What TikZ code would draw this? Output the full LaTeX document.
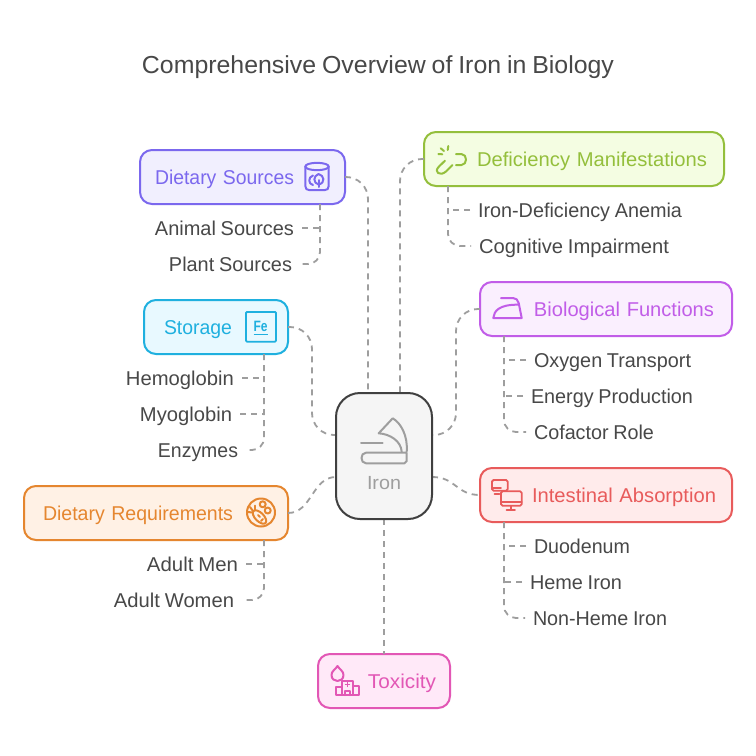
\documentclass[tikz,border=0pt]{standalone}
\usepackage{fontspec}
\usepackage{graphicx}
\setmainfont[WordSpace=0.85]{Liberation Sans}
\newcommand{\fw}[2]{\resizebox{#1pt}{\height}{#2}}
\definecolor{txt}{HTML}{484848}
\definecolor{cP}{HTML}{7B68EE}\definecolor{fP}{HTML}{F1EFFE}
\definecolor{cG}{HTML}{94BF3C}\definecolor{fG}{HTML}{F4FDE2}
\definecolor{cM}{HTML}{C15DE8}\definecolor{fM}{HTML}{FAEFFE}
\definecolor{cR}{HTML}{E85B5B}\definecolor{fR}{HTML}{FFEBEB}
\definecolor{cB}{HTML}{1FB0DF}\definecolor{fB}{HTML}{E8F9FF}
\definecolor{cO}{HTML}{E5862F}\definecolor{fO}{HTML}{FFF1E5}
\definecolor{cK}{HTML}{E257B5}\definecolor{fK}{HTML}{FFE9F8}
\definecolor{cI}{HTML}{9E9E9E}
\tikzset{
  x=1pt,y=-1pt,
  ftxt/.style={font=\fontsize{20}{22}\selectfont,text height=16,text depth=2},
  topic/.style n args={3}{draw=#1,fill=#2,text=#1,line width=2,rounded corners=12,outer sep=0,
     minimum height=54,inner ysep=0,ftxt,inner xsep=#3},
  item/.style={ftxt,text=txt,inner xsep=8,inner ysep=0,outer sep=0},
  conn/.style={draw=cI,line width=1.8,dash pattern=on 6 off 5},
  icon/.style={line width=2,line cap=round,line join=round},
}
\begin{document}
\begin{tikzpicture}
\useasboundingbox (0,0) rectangle (756,756);
\fill[white] (0,0) rectangle (756,756);
\node[font=\fontsize{24.6}{28}\selectfont,text=txt] (title) at (378,67) {\fw{472}{Comprehensive Overview of Iron in Biology}};

\node[draw=none,minimum width=96,minimum height=126,outer sep=0] (ironc) at (384,456) {};

% topics
\node[topic={cP}{fP}{15},text width=175,align=left]  (ds) at (242.5,177) {\fw{139}{Dietary Sources}};
\node[topic={cG}{fG}{17},text width=266,align=right] (dm) at (574,159) {\fw{230}{Deficiency Manifestations}};
\node[topic={cM}{fM}{18},text width=216,align=right] (bf) at (606,309) {\fw{180}{Biological Functions}};
\node[topic={cR}{fR}{16},text width=220,align=right] (ia) at (606,495) {\fw{184}{Intestinal Absorption}};
\node[topic={cB}{fB}{20},text width=104,align=left]  (st) at (216,327) {\fw{68}{Storage}};
\node[topic={cO}{fO}{19},text width=226,align=left]  (dr) at (156,513) {\fw{190}{Dietary Requirements}};
\node[topic={cK}{fK}{14},text width=104,align=right] (tx) at (384,681) {\fw{68}{Toxicity}};

% junction points on the topics
\coordinate (dsb) at ([xshift=77.5]ds.south);
\coordinate (dmb) at ([xshift=-126]dm.south);
\coordinate (bfb) at ([xshift=-102]bf.south);
\coordinate (iab) at ([xshift=-102]ia.south);
\coordinate (stb) at ([xshift=48]st.south);
\coordinate (drb) at ([xshift=108]dr.south);

% items
\node[item,anchor=east] (i1) at (302,228) {\fw{139}{Animal Sources}};
\node[item,anchor=east] (i2) at (300,264) {\fw{123}{Plant Sources}};
\node[item,anchor=west] (i3) at (470,210) {\fw{204}{Iron-Deficiency Anemia}};
\node[item,anchor=west] (i4) at (471,246) {\fw{190}{Cognitive Impairment}};
\node[item,anchor=west] (i5) at (526,360) {\fw{157}{Oxygen Transport}};
\node[item,anchor=west] (i6) at (523,396) {\fw{162}{Energy Production}};
\node[item,anchor=west] (i7) at (526,432) {\fw{120}{Cofactor Role}};
\node[item,anchor=west] (i8) at (526,546) {\fw{96}{Duodenum}};
\node[item,anchor=west] (i9) at (522,582) {\fw{92}{Heme Iron}};
\node[item,anchor=west] (i10) at (525,618) {\fw{134}{Non-Heme Iron}};
\node[item,anchor=east] (i11) at (242,378) {\fw{108}{Hemoglobin}};
\node[item,anchor=east] (i12) at (240,414) {\fw{92}{Myoglobin}};
\node[item,anchor=east] (i13) at (246,450) {\fw{80}{Enzymes}};
\node[item,anchor=east] (i14) at (246,564) {\fw{91}{Adult Men}};
\node[item,anchor=east] (i15) at (242,600) {\fw{120}{Adult Women}};

% main connectors
\draw[conn,rounded corners=22] (ds.east) -| ([xshift=-16]ironc.north);
\draw[conn,rounded corners=22] (dm.west) -| ([xshift=16]ironc.north);
\draw[conn,rounded corners=22] (bf.west) -| ([xshift=24,yshift=21]ironc.east) -- ([yshift=21]ironc.east);
\draw[conn,rounded corners=22] (st.east) -| ([xshift=-24,yshift=21]ironc.west) -- ([yshift=21]ironc.west);
\draw[conn] (dr.east) .. controls +(24,0) and +(-24,0) .. ([yshift=-21]ironc.west);
\draw[conn] ([yshift=-21]ironc.east) .. controls +(24,0) and +(-24,0) .. (ia.west);
\draw[conn] (ironc.south) -- (tx.north);

% item connectors
\draw[conn] (i1.east) -- (i1.east -| dsb);
\draw[conn,rounded corners=12] (dsb) |- (i2.east);
\draw[conn] (i3.west) -- (i3.west -| dmb);
\draw[conn,rounded corners=12] (dmb) |- (i4.west);
\draw[conn] (i5.west) -- (i5.west -| bfb);
\draw[conn] (i6.west) -- (i6.west -| bfb);
\draw[conn,rounded corners=12] (bfb) |- (i7.west);
\draw[conn] (i8.west) -- (i8.west -| iab);
\draw[conn] (i9.west) -- (i9.west -| iab);
\draw[conn,rounded corners=12] (iab) |- (i10.west);
\draw[conn] (i11.east) -- (i11.east -| stb);
\draw[conn] (i12.east) -- (i12.east -| stb);
\draw[conn,rounded corners=12] (stb) |- (i13.east);
\draw[conn] (i14.east) -- (i14.east -| drb);
\draw[conn,rounded corners=12] (drb) |- (i15.east);

% central node on top
\node[draw=black!75,fill=black!4,line width=2,rounded corners=24,minimum width=96,minimum height=126,outer sep=0] (iron) at (384,456) {};
\node[font=\fontsize{19}{22}\selectfont,text=cI] (ironl) at (384,483) {\fw{34}{Iron}};
% iron icon (centre)
\begin{scope}[icon,draw=cI]
  \draw (378.7,433.3) -- (392.7,418.3) .. controls (401,423) and (408,436) .. (406.7,451.7);
  \draw (378.7,433.3) .. controls (390,434) and (401,441) .. (401.7,451.7);
  \draw (361,443.3) -- (382.7,443.3);
  \draw (366,452.7) -- (406.7,452.7) -- (406.7,461) -- (404.5,463.3) -- (366,463.3)
        .. controls (360,463.3) and (360,452.7) .. (366,452.7) -- cycle;
\end{scope}
% cylinder
\begin{scope}[icon,draw=cP]
  \draw (317,166.5) ellipse [x radius=11.7,y radius=3.7];
  \draw (305.3,166.5) -- (305.3,186) .. controls (305.3,189) and (307,190) .. (309,190) -- (325,190)
        .. controls (327,190) and (328.7,189) .. (328.7,186) -- (328.7,166.5);
  \draw (313,175.5) .. controls (308,177) and (308,184) .. (313,185);
  \draw (318.5,187) -- (318.5,180);
  \draw (318.5,184.5) .. controls (326,183) and (324,175) .. (318.5,174) .. controls (313,176) and (313,183) .. (318.5,184.5);
\end{scope}
% broken link
\begin{scope}[icon,draw=cG]
  \draw (456,154) -- (461.5,154) .. controls (467.5,154) and (467.5,165) .. (461.5,165) -- (456,165);
  \draw (445,160.7) -- (439,166.5) .. controls (436,169.5) and (436.5,172) .. (438,173)
        .. controls (440,174.5) and (443,174) .. (446,171.5) -- (452.5,165);
  \draw (448.3,146) -- (447.7,150);
  \draw (440.7,148.3) -- (444,151);
  \draw (438.3,154) -- (442.3,154.3);
\end{scope}
% clothes iron
\begin{scope}[icon,draw=cM]
  \draw (501,298) -- (513,298) .. controls (516,298) and (518,300) .. (518.7,303) -- (521.7,318) -- (493.3,318)
        .. controls (494,311) and (499,304.5) .. (518,304.7);
\end{scope}
% monitors
\begin{scope}[icon,draw=cR,line width=1.8]
  \draw[rounded corners=1.5] (492,480) rectangle (507.7,490.7);
  \draw (492,488) -- (501,488);
  \draw (494.5,493.7) -- (499.5,493.7);
  \draw[rounded corners=1.5,fill=fR] (501,491.3) rectangle (521.7,505.7);
  \draw (501,502.3) -- (521.7,502.3);
  \draw (511,506) -- (511,509.5);
  \draw (506.5,509.7) -- (515,509.7);
\end{scope}
% Fe
\draw[cB,line width=1.8,rounded corners=1] (246,312) rectangle (276,341.7);
\node[text=cB,font=\bfseries\fontsize{15}{16}\selectfont,inner sep=0] (fe) at (260.5,326) {\fw{14}{Fe}};
\draw[cB,line width=1.5] (253.5,334.5) -- (268,334.5);
% carrot plate
\begin{scope}[icon,draw=cO]
  \draw (261,512.5) circle [radius=14];
  \draw[rotate around={-45:(259.5,517)}] (259.5,517) ellipse [x radius=8.5,y radius=4.3];
  \draw (253,511) -- (250,507);
  \draw (255,510) -- (255,505.5);
  \draw (252,512.5) -- (248,512);
  \draw (258,515) -- (260,517);
  \draw (261,521) -- (263,519);
  \draw (262.7,504.3) circle [radius=3];
  \draw (267.7,510.5) circle [radius=3];
\end{scope}
% toxicity
\begin{scope}[icon,draw=cK]
  \draw (337.5,666) .. controls (335,670) and (331.5,671) .. (331.5,675)
        .. controls (331.5,683) and (343.5,683) .. (343.5,675)
        .. controls (343.5,671) and (340,670) .. (337.5,666) -- cycle;
  \draw (336,695) rectangle (341.7,687);
  \draw (341.7,695) rectangle (353.3,680.7);
  \draw (353.3,695) rectangle (359.3,686);
  \draw (345,695) -- (345,690.7) -- (350,690.7) -- (350,695);
  \draw[line width=1.3] (347.5,682.5) -- (347.5,686.5) (345.5,684.5) -- (349.5,684.5);
\end{scope}
\end{tikzpicture}
\end{document}
